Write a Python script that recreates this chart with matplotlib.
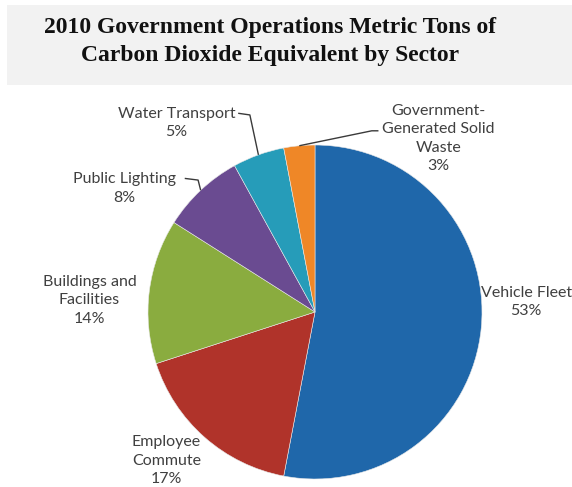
import numpy as np
import matplotlib.pyplot as plt
from matplotlib.patches import Rectangle

# Sector shares of 2010 CO2e emissions (percent)
sectors = ['Vehicle Fleet', 'Employee Commute', 'Buildings and Facilities',
           'Public Lighting', 'Water Transport', 'Government-Generated Solid Waste']
shares = [53, 17, 14, 8, 5, 3]
label_texts = ['Vehicle Fleet', 'Employee\nCommute', 'Buildings and\nFacilities',
               'Public Lighting', 'Water Transport', 'Government-\nGenerated Solid\nWaste']
colors = ['#1f67aa', '#b0332a', '#8aac3f', '#6a4b91', '#269cb9', '#ef8727']

W, H = 572, 487
fig = plt.figure(figsize=(W / 100, H / 100), dpi=100)
fig.patch.set_facecolor('white')

# title band
bg = fig.add_axes([0, 0, 1, 1])
bg.set_xlim(0, W)
bg.set_ylim(H, 0)
bg.axis('off')
bg.add_patch(Rectangle((7, 5), W - 7, 80, facecolor='#f2f2f2', edgecolor='none'))
bg.text(270, 28, '2010 Government Operations Metric Tons of', ha='center', va='center',
        fontsize=17, fontweight='bold', family='Liberation Serif', color='#111111')
bg.text(270, 56, 'Carbon Dioxide Equivalent by Sector', ha='center', va='center',
        fontsize=17, fontweight='bold', family='Liberation Serif', color='#111111')

# pie axes: centre (315, 312) px, radius 167 px
cx, cy, r = 315, 312, 167
ax = fig.add_axes([(cx - r) / W, (H - cy - r) / H, 2 * r / W, 2 * r / H])

wedges, _ = ax.pie(shares, colors=colors, startangle=90, counterclock=False, radius=1,
                   wedgeprops=dict(edgecolor='#e8e8e8', linewidth=0.4))
ax.set_xlim(-1, 1)
ax.set_ylim(-1, 1)
ax.axis('off')

# label centres in pie data units
label_pos = [(1.265, 0.06), (-0.89, -0.89), (-1.35, 0.07),
             (-1.14, 0.74), (-0.83, 1.13), (0.74, 1.04)]
# elbow points of the leader lines (only for the small slices)
elbows = {3: [(-0.70, 0.79), (-0.78, 0.80)],
          4: [(-0.39, 1.18), (-0.46, 1.19)],
          5: [(0.34, 1.085), (0.38, 1.085)]}

for i, (w, txt, pct) in enumerate(zip(wedges, label_texts, shares)):
    lx, ly = label_pos[i]
    ax.text(lx, ly, f'{txt}\n{pct}%', ha='center', va='center', fontsize=11.5,
            family='Lato', color='#404040', linespacing=1.4, clip_on=False)
    if i in elbows:
        mid = np.deg2rad((w.theta1 + w.theta2) / 2)
        ex, ey = np.cos(mid), np.sin(mid)
        pts = [(ex, ey)] + elbows[i]
        ax.plot([p[0] for p in pts], [p[1] for p in pts], color='#3a3a3a',
                lw=1.0, clip_on=False, solid_capstyle='butt')

fig.savefig('out.png', dpi=100)
